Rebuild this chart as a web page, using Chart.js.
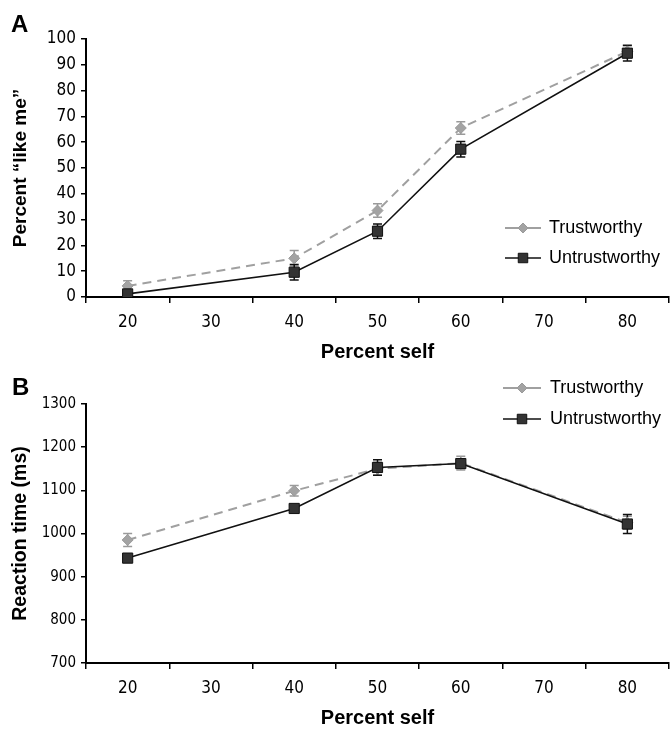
<!DOCTYPE html>
<html><head><meta charset="utf-8">
<script src="https://cdn.jsdelivr.net/npm/chart.js@4"></script>
<style>
html,body{margin:0;padding:0;background:#fff;}
#wrap{position:relative;width:670px;height:733px;overflow:hidden;}
.pane{position:absolute;left:0;width:670px;}
canvas{display:block;}
</style></head><body>
<div id="wrap">
<div class="pane" style="top:0;height:365px"><canvas id="cA" width="670" height="365"></canvas></div>
<div class="pane" style="top:365px;height:368px"><canvas id="cB" width="670" height="368"></canvas></div>
</div>
<script>
// ---- data ----
const categories = ['20', '30', '40', '50', '60', '70', '80'];
const seriesNames = ['Trustworthy', 'Untrustworthy'];

const likeTrust     = [4.3, null, 15.0, 33.5, 65.5, null, 95.2];
const likeTrustErr  = [2.0, null, 3.0, 2.6, 2.4, null, 2.5];
const likeUntrust   = [1.2, null, 9.6, 25.5, 57.3, null, 94.5];
const likeUntrustErr= [1.0, null, 3.0, 2.8, 3.0, null, 3.0];
const likeTicks     = [0, 100, 10];   // min, max, step

const rtTrust       = [985, null, 1099, 1150, 1163, null, 1025];
const rtTrustErr    = [15, null, 12, 15, 16, null, 15];
const rtUntrust     = [943, null, 1058, 1153, 1162, null, 1022];
const rtUntrustErr  = [8, null, 8, 18, 10, null, 22];
const rtTicks       = [700, 1300, 100];

Chart.defaults.font.family = '"Liberation Sans", Arial, sans-serif';
Chart.defaults.color = '#000';

const errorBars = {
  id: 'errorBars',
  beforeDatasetsDraw(chart) {
    const {ctx} = chart;
    const x = chart.scales.x, y = chart.scales.y;
    chart.data.datasets.forEach(ds => {
      const errs = ds.errors;
      if (!errs) return;
      ctx.save();
      ctx.strokeStyle = ds.errorColor;
      ctx.lineWidth = 1.5;
      ds.data.forEach((v, j) => {
        if (v == null || errs[j] == null) return;
        const px = x.getPixelForValue(j);
        const t = y.getPixelForValue(v + errs[j]);
        const b = y.getPixelForValue(v - errs[j]);
        ctx.beginPath();
        ctx.moveTo(px, t); ctx.lineTo(px, b);
        ctx.moveTo(px - 4.5, t); ctx.lineTo(px + 4.5, t);
        ctx.moveTo(px - 4.5, b); ctx.lineTo(px + 4.5, b);
        ctx.stroke();
      });
      ctx.restore();
    });
  }
};

const lineLegend = {
  id: 'lineLegend',
  afterDraw(chart, args, opts) {
    const ctx = chart.ctx;
    chart.data.datasets.forEach((ds, i) => {
      const yy = opts.y + i * opts.gap;
      ctx.save();
      ctx.strokeStyle = ds.borderColor;
      ctx.lineWidth = ds.borderWidth;
      ctx.beginPath();
      ctx.moveTo(opts.x, yy); ctx.lineTo(opts.x + opts.len, yy);
      ctx.stroke();
      ctx.fillStyle = ds.pointBackgroundColor;
      ctx.strokeStyle = ds.pointBorderColor;
      ctx.lineWidth = 1;
      Chart.helpers.drawPoint(ctx, {pointStyle: ds.pointStyle, radius: ds.pointRadius - 0.5, borderWidth: 1, rotation: 0}, opts.x + opts.len / 2, yy);
      ctx.fillStyle = '#000';
      ctx.font = '18px "Liberation Sans", Arial, sans-serif';
      ctx.textBaseline = 'middle';
      ctx.textAlign = 'left';
      ctx.fillText(ds.label, opts.x + opts.len + opts.textGap, yy);
      ctx.restore();
    });
    if (opts.letter) {
      ctx.save();
      ctx.fillStyle = '#000';
      ctx.font = 'bold 24px "Liberation Sans", Arial, sans-serif';
      ctx.textBaseline = 'alphabetic';
      ctx.textAlign = 'left';
      ctx.fillText(opts.letter, opts.letterX, opts.letterY);
      ctx.restore();
    }
  }
};

function makeDatasets(tv, te, uv, ue) {
  return [
    {
      label: seriesNames[0], data: tv, errors: te, errorColor: '#9a9a9a',
      borderColor: '#a0a0a0', borderWidth: 2, borderDash: [9, 6],
      pointStyle: 'rectRot', pointRadius: 5.5, pointBackgroundColor: '#a3a3a3',
      pointBorderColor: '#9a9a9a', pointBorderWidth: 1, order: 2
    },
    {
      label: seriesNames[1], data: uv, errors: ue, errorColor: '#111',
      borderColor: '#111', borderWidth: 1.6,
      pointStyle: 'rect', pointRadius: 7.2, pointBackgroundColor: '#333',
      pointBorderColor: '#111', pointBorderWidth: 1, order: 1
    }
  ];
}

function makeChart(id, datasets, ticks, yTitle, cfg) {
  return new Chart(document.getElementById(id), {
    type: 'line',
    data: {labels: categories, datasets: datasets},
    plugins: [errorBars, lineLegend],
    options: {
      responsive: false, animation: false,
      layout: {autoPadding: false, padding: {top: 39, right: 1, left: 0, bottom: 0}},
      spanGaps: true,
      elements: {line: {tension: 0}},
      plugins: {
        legend: {display: false}, tooltip: {enabled: false},
        lineLegend: cfg.legend
      },
      scales: {
        x: {
          type: 'category', offset: true,
          grid: {offset: true, drawOnChartArea: false, tickLength: 6, color: '#000', lineWidth: 1.5},
          border: {color: '#000', width: 2},
          ticks: {autoSkip: false, maxRotation: 0, padding: 9, color: '#000',
                  font: {family: '"DejaVu Sans Condensed", "DejaVu Sans", sans-serif', size: 17}},
          title: {display: true, text: 'Percent self', color: '#000',
                  font: {weight: 'bold', size: 20}, padding: {top: 0, bottom: cfg.xTitlePad}},
          afterFit: s => { s.height = cfg.xHeight; s.paddingLeft = 0; s.paddingRight = 0; }
        },
        y: {
          min: ticks[0], max: ticks[1],
          grid: {drawOnChartArea: false, tickLength: 5, color: '#000', lineWidth: 1.5},
          border: {color: '#000', width: 2},
          ticks: {stepSize: ticks[2], padding: 5, color: '#000', font: cfg.yTickFont,
                  callback: v => String(v)},
          title: {display: true, text: yTitle, color: '#000',
                  font: {weight: 'bold', size: cfg.yTitleSize}, padding: {top: 9, bottom: 0}},
          afterFit: s => { s.width = 86; }
        }
      }
    }
  });
}

makeChart('cA', makeDatasets(likeTrust, likeTrustErr, likeUntrust, likeUntrustErr), likeTicks,
  'Percent \u201clike me\u201d', {
    xHeight: 68, xTitlePad: 1, yTitleSize: 19,
    yTickFont: {family: '"DejaVu Sans Condensed", "DejaVu Sans", sans-serif', size: 17},
    legend: {x: 505, y: 228, gap: 30, len: 36, textGap: 8, letter: 'A', letterX: 11, letterY: 32}
  });

makeChart('cB', makeDatasets(rtTrust, rtTrustErr, rtUntrust, rtUntrustErr), rtTicks,
  'Reaction time (ms)', {
    xHeight: 70, xTitlePad: 3, yTitleSize: 19.5,
    yTickFont: {family: '"DejaVu Sans Condensed", "DejaVu Sans", sans-serif', size: 15},
    legend: {x: 503, y: 23, gap: 31, len: 38, textGap: 9, letter: 'B', letterX: 12, letterY: 30}
  });
</script>
</body></html>
